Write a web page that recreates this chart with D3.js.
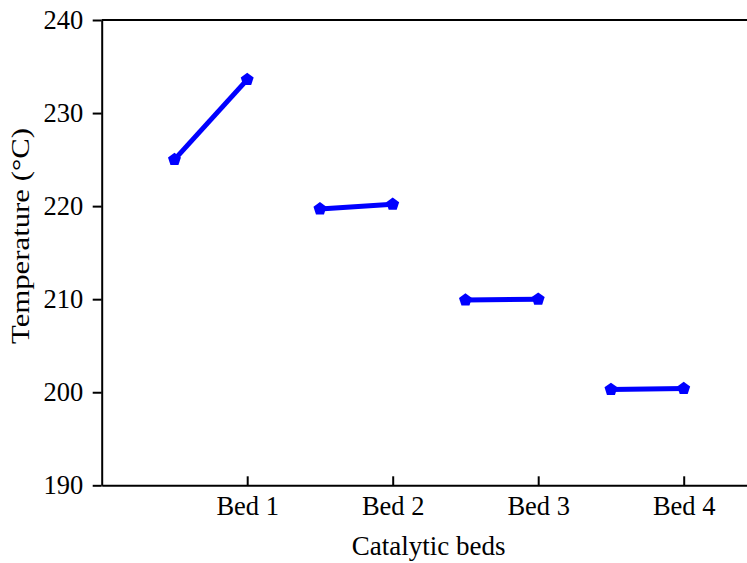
<!DOCTYPE html>
<html><head><meta charset="utf-8">
<script src="https://cdn.jsdelivr.net/npm/d3@7"></script>
<style>body{margin:0;background:#fff}svg{display:block}text{font-family:"Liberation Serif","Times New Roman",serif;fill:#000}</style>
</head><body><svg id="c" width="747" height="563"></svg>
<script>
const categories = ["Bed 1","Bed 2","Bed 3","Bed 4"];
const inletTemp  = [225.0, 219.7, 209.9, 200.3];
const outletTemp = [233.6, 220.2, 210.0, 200.4];
const yTicks = [190,200,210,220,230,240];

const svg = d3.select("#c");
const x = d3.scaleLinear().domain([0,4.5]).range([101.7, 101.7+4.5*145.5]);
const y = d3.scaleLinear().domain([190,240]).range([485.3,20]);

// top frame line
svg.append("line").attr("x1",x(0)).attr("x2",x(4.5)).attr("y1",y(240)).attr("y2",y(240))
  .attr("stroke","#000").attr("stroke-width",2);

const xAxis = svg.append("g").attr("transform",`translate(0,${y(190)})`)
  .call(d3.axisBottom(x).tickValues([1,2,3,4]).tickFormat(d=>categories[d-1]).tickSizeInner(-9).tickSizeOuter(0).tickPadding(11));
const yAxis = svg.append("g").attr("transform",`translate(${x(0)},0)`)
  .call(d3.axisLeft(y).tickValues(yTicks).tickSizeInner(9).tickSizeOuter(0).tickPadding(9.5));
[xAxis,yAxis].forEach(g=>{
  g.selectAll(".domain").attr("stroke","#000").attr("stroke-width",2);
  g.selectAll(".tick line").attr("stroke","#000").attr("stroke-width",2);
  g.selectAll("text").attr("font-size",26.5).attr("font-family",'"Liberation Serif",serif').attr("fill","#000");
});

svg.append("text").attr("x",428.7).attr("y",555).attr("text-anchor","middle").attr("font-size",27).text("Catalytic beds");
svg.append("text").attr("transform","translate(29,236) rotate(-90)").attr("text-anchor","middle").attr("font-size",25)
  .attr("textLength",216).attr("lengthAdjust","spacingAndGlyphs").text("Temperature (°C)");

const segs = categories.map((c,i)=>[[i+0.5,inletTemp[i]],[i+1,outletTemp[i]]]);
const line = d3.line().x(d=>x(d[0])).y(d=>y(d[1]));
svg.append("g").selectAll("path").data(segs).join("path")
  .attr("d",line).attr("fill","none").attr("stroke","#0000ff").attr("stroke-width",5);

const r = 6.8;
const pent = d3.range(5).map(k=>{const a=-Math.PI/2+k*2*Math.PI/5;return [r*Math.cos(a),r*Math.sin(a)];});
const pentPath = "M"+pent.map(p=>p.join(",")).join("L")+"Z";
svg.append("g").selectAll("path").data(segs.flat()).join("path")
  .attr("d",pentPath).attr("transform",d=>`translate(${x(d[0])},${y(d[1])})`).attr("fill","#0000ff");
</script></body></html>
